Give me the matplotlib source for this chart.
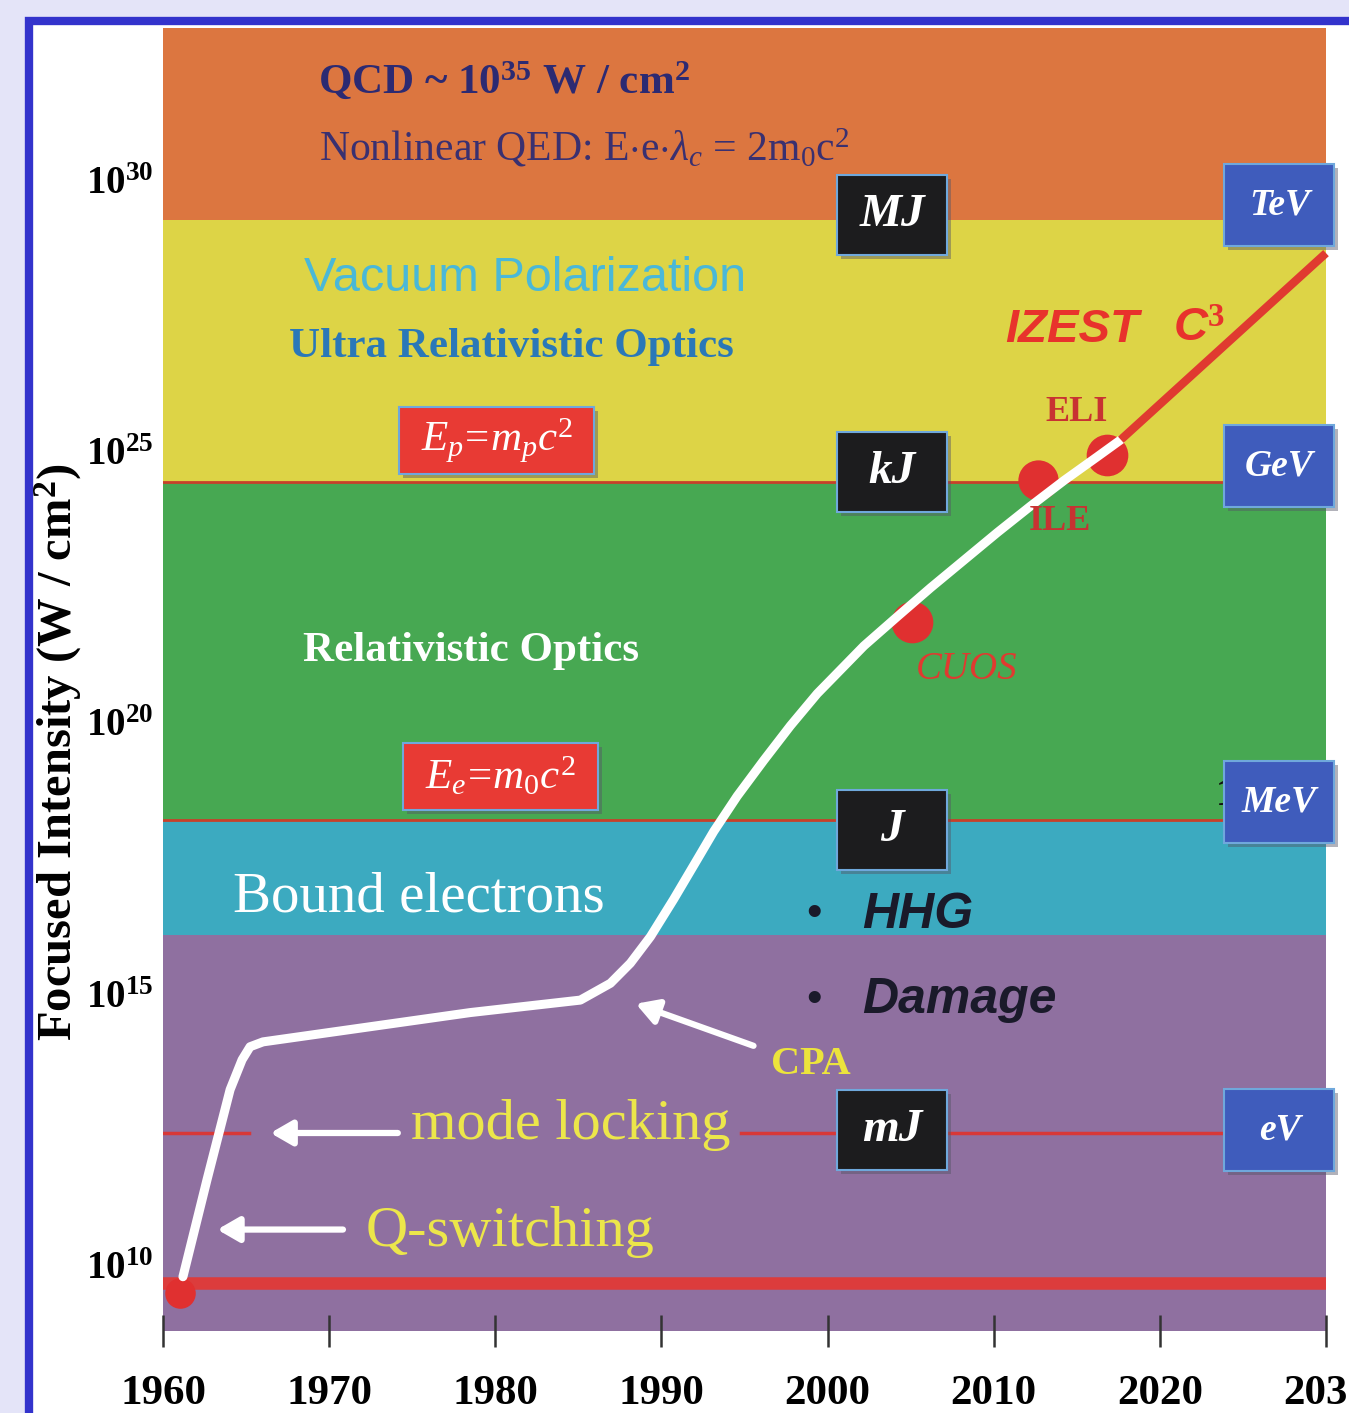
import matplotlib
matplotlib.use('Agg')
import matplotlib.pyplot as plt
import matplotlib.transforms as mtransforms
from matplotlib.patches import Rectangle
import numpy as np

plt.rcParams.update({'font.family': 'Liberation Serif',
                     'mathtext.fontset': 'custom',
                     'mathtext.rm': 'Liberation Serif',
                     'mathtext.it': 'Liberation Serif:italic',
                     'mathtext.bf': 'Liberation Serif:bold'})

# ---- data (exponents of W/cm^2, years) ----
band_edges = [8.78, 16.08, 18.20, 24.43, 29.26, 32.80]
band_colors = ['#8f70a0', '#3caac0', '#47a852', '#ddd446', '#dc7640']

curve_year = [1961.2, 1962.65, 1964.04, 1964.76, 1965.24, 1966.02, 1978.49, 1985.12,
              1986.93, 1988.13, 1989.34, 1990.74, 1992.15, 1993.15, 1994.56, 1996.16,
              1997.77, 1999.38, 2000.18, 2002.19, 2004.20, 2006.20, 2008.21, 2010.22,
              2012.23, 2014.24, 2016.25, 2017.65]
curve_exp = [9.78, 11.57, 13.23, 13.78, 14.02, 14.11, 14.65, 14.88,
             15.19, 15.56, 16.05, 16.74, 17.47, 17.99, 18.64, 19.30,
             19.94, 20.53, 20.78, 21.41, 21.95, 22.48, 22.99, 23.50,
             23.99, 24.46, 24.90, 25.21]
future_year = [2017.65, 2030.0]
future_exp = [25.21, 28.65]

dot_year = [1961.0, 2005.1, 2012.65, 2016.8]
dot_exp = [9.48, 21.85, 24.47, 24.93]
dot_size = [22, 30, 29, 30]

energy_boxes = ['MJ', 'kJ', 'J', 'mJ']
energy_exp = [29.35, 24.62, 18.02, 12.49]
energy_year = 2003.9
particle_boxes = ['TeV', 'GeV', 'MeV', 'eV']
particle_exp = [29.54, 24.73, 18.53, 12.49]
particle_year = 2027.2

xticks = [1960, 1970, 1980, 1990, 2000, 2010, 2020, 2030]
yticks = [10, 15, 20, 25, 30]

W, H = 1349, 1413
fig = plt.figure(figsize=(W / 100, H / 100), dpi=100, facecolor='#e4e4f8')
fig.add_artist(Rectangle((29 / W, -0.1), 1.2, 1 - 21 / H + 0.1, transform=fig.transFigure,
                         facecolor='white', edgecolor='#3333cc', lw=6, zorder=0))
ax = fig.add_axes([163 / W, 1 - 1331 / H, (1326 - 163) / W, (1331 - 28) / H])
ax.set_yscale('log')
ax.set_xlim(1960, 2030)
ax.set_ylim(10 ** band_edges[0], 10 ** band_edges[-1])

for lo, hi, c in zip(band_edges[:-1], band_edges[1:], band_colors):
    ax.axhspan(10 ** lo, 10 ** hi, color=c, lw=0, zorder=0)

# red reference lines
ax.axhline(10 ** 24.43, color='#c8402a', lw=2, zorder=1)
ax.axhline(10 ** 18.20, color='#c8402a', lw=2, zorder=1)
ax.axhline(10 ** 9.67, color='#dc3c3c', lw=9, zorder=1)
ax.plot([1960, 1965.2], [10 ** 12.43] * 2, color='#d83838', lw=2.5, zorder=1)
ax.plot([1994.8, 2024], [10 ** 12.43] * 2, color='#d83838', lw=2.5, zorder=1)

# progress curve
ax.plot(curve_year, 10 ** np.array(curve_exp), color='white', lw=6.5,
        solid_joinstyle='round', solid_capstyle='round', zorder=3)
ax.plot(future_year, 10 ** np.array(future_exp), color='#e03a30', lw=6,
        solid_capstyle='butt', zorder=3, clip_on=False)
for x, e, s in zip(dot_year, dot_exp, dot_size):
    ax.plot(x, 10 ** e, 'o', color='#e03030', ms=s, mew=0, zorder=2, clip_on=False)


def box(x, e, w, h, fc, text, fs, tc='white', **kw):
    tr = fig.dpi_scale_trans + mtransforms.ScaledTranslation(x, 10 ** e, ax.transData)
    ax.add_patch(Rectangle((-w / 2 + 0.04, -h / 2 - 0.04), w, h, transform=tr,
                           facecolor='#555566', alpha=0.45, lw=0, zorder=4, clip_on=False))
    ax.add_patch(Rectangle((-w / 2, -h / 2), w, h, transform=tr, facecolor=fc,
                           edgecolor='#6fa8dc', lw=1.5, zorder=5, clip_on=False))
    ax.text(x, 10 ** e, text, color=tc, fontsize=fs, ha='center', va='center',
            zorder=6, **kw)


for t, e in zip(energy_boxes, energy_exp):
    box(energy_year, e, 1.1, 0.8, '#1c1c1e', t, 34, fontweight='bold', style='italic')
for t, e in zip(particle_boxes, particle_exp):
    box(particle_year, e, 1.1, 0.82, '#3f5cbc', t, 27, fontweight='bold', style='italic')
box(1980.1, 25.19, 1.95, 0.67, '#e83a34', r'$E_p\!=\!m_pc^2$', 31)
box(1980.3, 19.0, 1.95, 0.67, '#e83a34', r'$E_e\!=\!m_0c^2$', 31)

# region labels
ax.text(1969.3, 10 ** 31.81, r'QCD ~ 10$^{\mathbf{35}}$ W / cm$^{\mathbf{2}}$',
        color='#2c2a72', fontsize=31, fontweight='bold', va='center')
ax.text(1969.4, 10 ** 30.59, r'Nonlinear QED: E$\cdot$e$\cdot\lambda_c$ = 2m$_0$c$^2$',
        color='#3a3070', fontsize=30, va='center')
ax.text(1968.5, 10 ** 28.19, 'Vacuum Polarization', family='Liberation Sans',
        color='#4ab8d8', fontsize=35, va='center')
ax.text(1967.6, 10 ** 26.92, 'Ultra Relativistic Optics', color='#2a78b8',
        fontsize=31, fontweight='bold', va='center')
ax.text(1968.4, 10 ** 21.32, 'Relativistic Optics', color='white',
        fontsize=31, fontweight='bold', va='center')
ax.text(1964.2, 10 ** 16.77, 'Bound electrons', color='white', fontsize=41, va='center')
for label, e in [('HHG', 16.45), ('Damage', 14.88)]:
    ax.text(1998.7, 10 ** e, '•', color='#1a1a2a', fontsize=32, va='center',
            family='Liberation Sans')
    ax.text(2002.1, 10 ** e, label, color='#1a1a2a', fontsize=36, va='center',
            family='Liberation Sans', fontweight='bold', style='italic')
ax.text(2010.7, 10 ** 27.24, 'IZEST', color='#e8322c', fontsize=34,
        va='center', family='Liberation Sans', fontweight='bold', style='italic')
ax.text(2020.8, 10 ** 27.24, r'C$^{\mathbf{3}}$', color='#e8322c', fontsize=34,
        va='center', family='Liberation Sans', fontweight='bold', style='italic')
ax.text(2013.1, 10 ** 25.72, 'ELI', color='#c83232', fontsize=26, fontweight='bold', va='center')
ax.text(2012.1, 10 ** 23.70, 'ILE', color='#c83232', fontsize=26, fontweight='bold', va='center')
ax.text(2005.3, 10 ** 20.97, 'CUOS', color='#e03a30', fontsize=28, style='italic', va='center')
ax.text(2023.4, 10 ** 18.66, '1', color='#111111', fontsize=28, fontweight='bold', va='center')
ax.text(1996.6, 10 ** 13.69, 'CPA', color='#ece43c', fontsize=29, fontweight='bold', va='center')
ax.text(1974.9, 10 ** 12.58, 'mode locking', color='#ece64a', fontsize=42, va='center')
ax.text(1972.2, 10 ** 10.61, 'Q-switching', color='#ece64a', fontsize=42, va='center')

arrow = dict(arrowstyle='-|>,head_length=1.3,head_width=0.75', color='white', lw=4.5)
ax.annotate('', xy=(1966.3, 10 ** 12.43), xytext=(1974.3, 10 ** 12.43), arrowprops=arrow, zorder=3)
ax.annotate('', xy=(1963.1, 10 ** 10.65), xytext=(1971.0, 10 ** 10.65), arrowprops=arrow, zorder=3)
ax.annotate('', xy=(1988.3, 10 ** 14.83), xytext=(1995.7, 10 ** 14.02), arrowprops=arrow, zorder=3)

# axes
for s in ax.spines.values():
    s.set_visible(False)
ax.set_xticks(xticks)
ax.set_xticklabels([str(x) for x in xticks], fontsize=31, fontweight='bold')
ax.tick_params(axis='x', direction='inout', length=23, width=1.8, color='#333333', pad=20)
ax.set_yticks([10.0 ** e for e in yticks])
ax.set_yticklabels([r'$\mathbf{10^{%d}}$' % e for e in yticks], fontsize=28)
ax.yaxis.set_minor_locator(matplotlib.ticker.NullLocator())
ax.tick_params(axis='y', length=0, pad=7)
ax.set_ylabel(r'Focused Intensity (W / cm$^{\mathbf{2}}$)', fontsize=35, fontweight='bold')
ax.yaxis.set_label_coords(-0.068, 0.444)

fig.savefig('out.png', dpi=100, facecolor=fig.get_facecolor())
